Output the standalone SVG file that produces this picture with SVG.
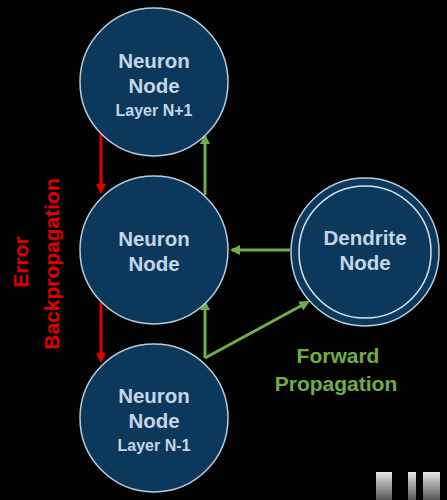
<svg xmlns="http://www.w3.org/2000/svg" width="447" height="500" viewBox="0 0 447 500">
<defs>
<style>
.node{fill:#0c385c;stroke:#b9cde0;stroke-width:1.5}
.t{font-family:"Liberation Sans",Arial,sans-serif;font-weight:bold;fill:#c6d6e6;text-anchor:middle}
.big{font-size:20.5px}
.small{font-size:16px}
.red{stroke:#e00000;stroke-width:3;fill:none}
.grn{stroke:#70ad47;stroke-width:3;fill:none}
.lbl{font-family:"Liberation Sans",Arial,sans-serif;font-weight:bold;font-size:21px;text-anchor:middle}
</style>
<marker id="ar" viewBox="0 0 10 10" refX="8" refY="5" markerWidth="3.5" markerHeight="3.5" orient="auto"><path d="M0,0 L10,5 L0,10 z" fill="#e00000"/></marker>
<marker id="ag" viewBox="0 0 10 10" refX="8" refY="5" markerWidth="3.5" markerHeight="3.5" orient="auto"><path d="M0,0 L10,5 L0,10 z" fill="#70ad47"/></marker>
<linearGradient id="wm" x1="0" y1="0" x2="0" y2="1"><stop offset="0" stop-color="#e8e8e8"/><stop offset="1" stop-color="#555"/></linearGradient>
</defs>
<rect width="447" height="500" fill="#030303"/>
<g id="connectors">
<line class="red" x1="101" y1="134" x2="101" y2="192" marker-end="url(#ar)"/>
<line class="red" x1="101" y1="302" x2="101" y2="361" marker-end="url(#ar)"/>
<line class="grn" x1="205" y1="195" x2="205" y2="136" marker-end="url(#ag)"/>
<line class="grn" x1="205" y1="358" x2="205" y2="302" marker-end="url(#ag)"/>
<line class="grn" x1="290" y1="250" x2="232" y2="250" marker-end="url(#ag)"/>
<line class="grn" x1="205" y1="358" x2="308" y2="302" marker-end="url(#ag)"/>
</g>
<g id="n1">
<circle class="node" cx="154" cy="82" r="74"/>
<text class="t big" x="154" y="68">Neuron</text>
<text class="t big" x="154" y="93">Node</text>
<text class="t small" x="154" y="116">Layer N+1</text>
</g>
<g id="n2">
<circle class="node" cx="154" cy="250" r="74"/>
<text class="t big" x="154" y="246">Neuron</text>
<text class="t big" x="154" y="271">Node</text>
</g>
<g id="n3">
<circle class="node" cx="154" cy="418" r="74"/>
<text class="t big" x="154" y="403">Neuron</text>
<text class="t big" x="154" y="428">Node</text>
<text class="t small" x="154" y="451">Layer N-1</text>
</g>
<g id="dendrite">
<circle class="node" cx="365" cy="252" r="74"/>
<circle cx="365" cy="252" r="66" fill="none" stroke="#d8e4ef" stroke-width="1.5"/>
<text class="t big" x="365" y="245">Dendrite</text>
<text class="t big" x="365" y="270">Node</text>
</g>
<g id="labels">
<text class="lbl" fill="#e00000" transform="translate(28,262) rotate(-90)">Error</text>
<text class="lbl" fill="#e00000" transform="translate(59,264) rotate(-90)">Backpropagation</text>
<text class="lbl" fill="#70ad47" x="338" y="363">Forward</text>
<text class="lbl" fill="#70ad47" x="336" y="391">Propagation</text>
</g>
<g id="marks">
<rect x="376" y="472" width="16" height="28" fill="url(#wm)"/>
<rect x="408" y="472" width="8" height="28" fill="url(#wm)"/>
<rect x="423" y="472" width="17" height="28" fill="url(#wm)"/>
</g>
</svg>
